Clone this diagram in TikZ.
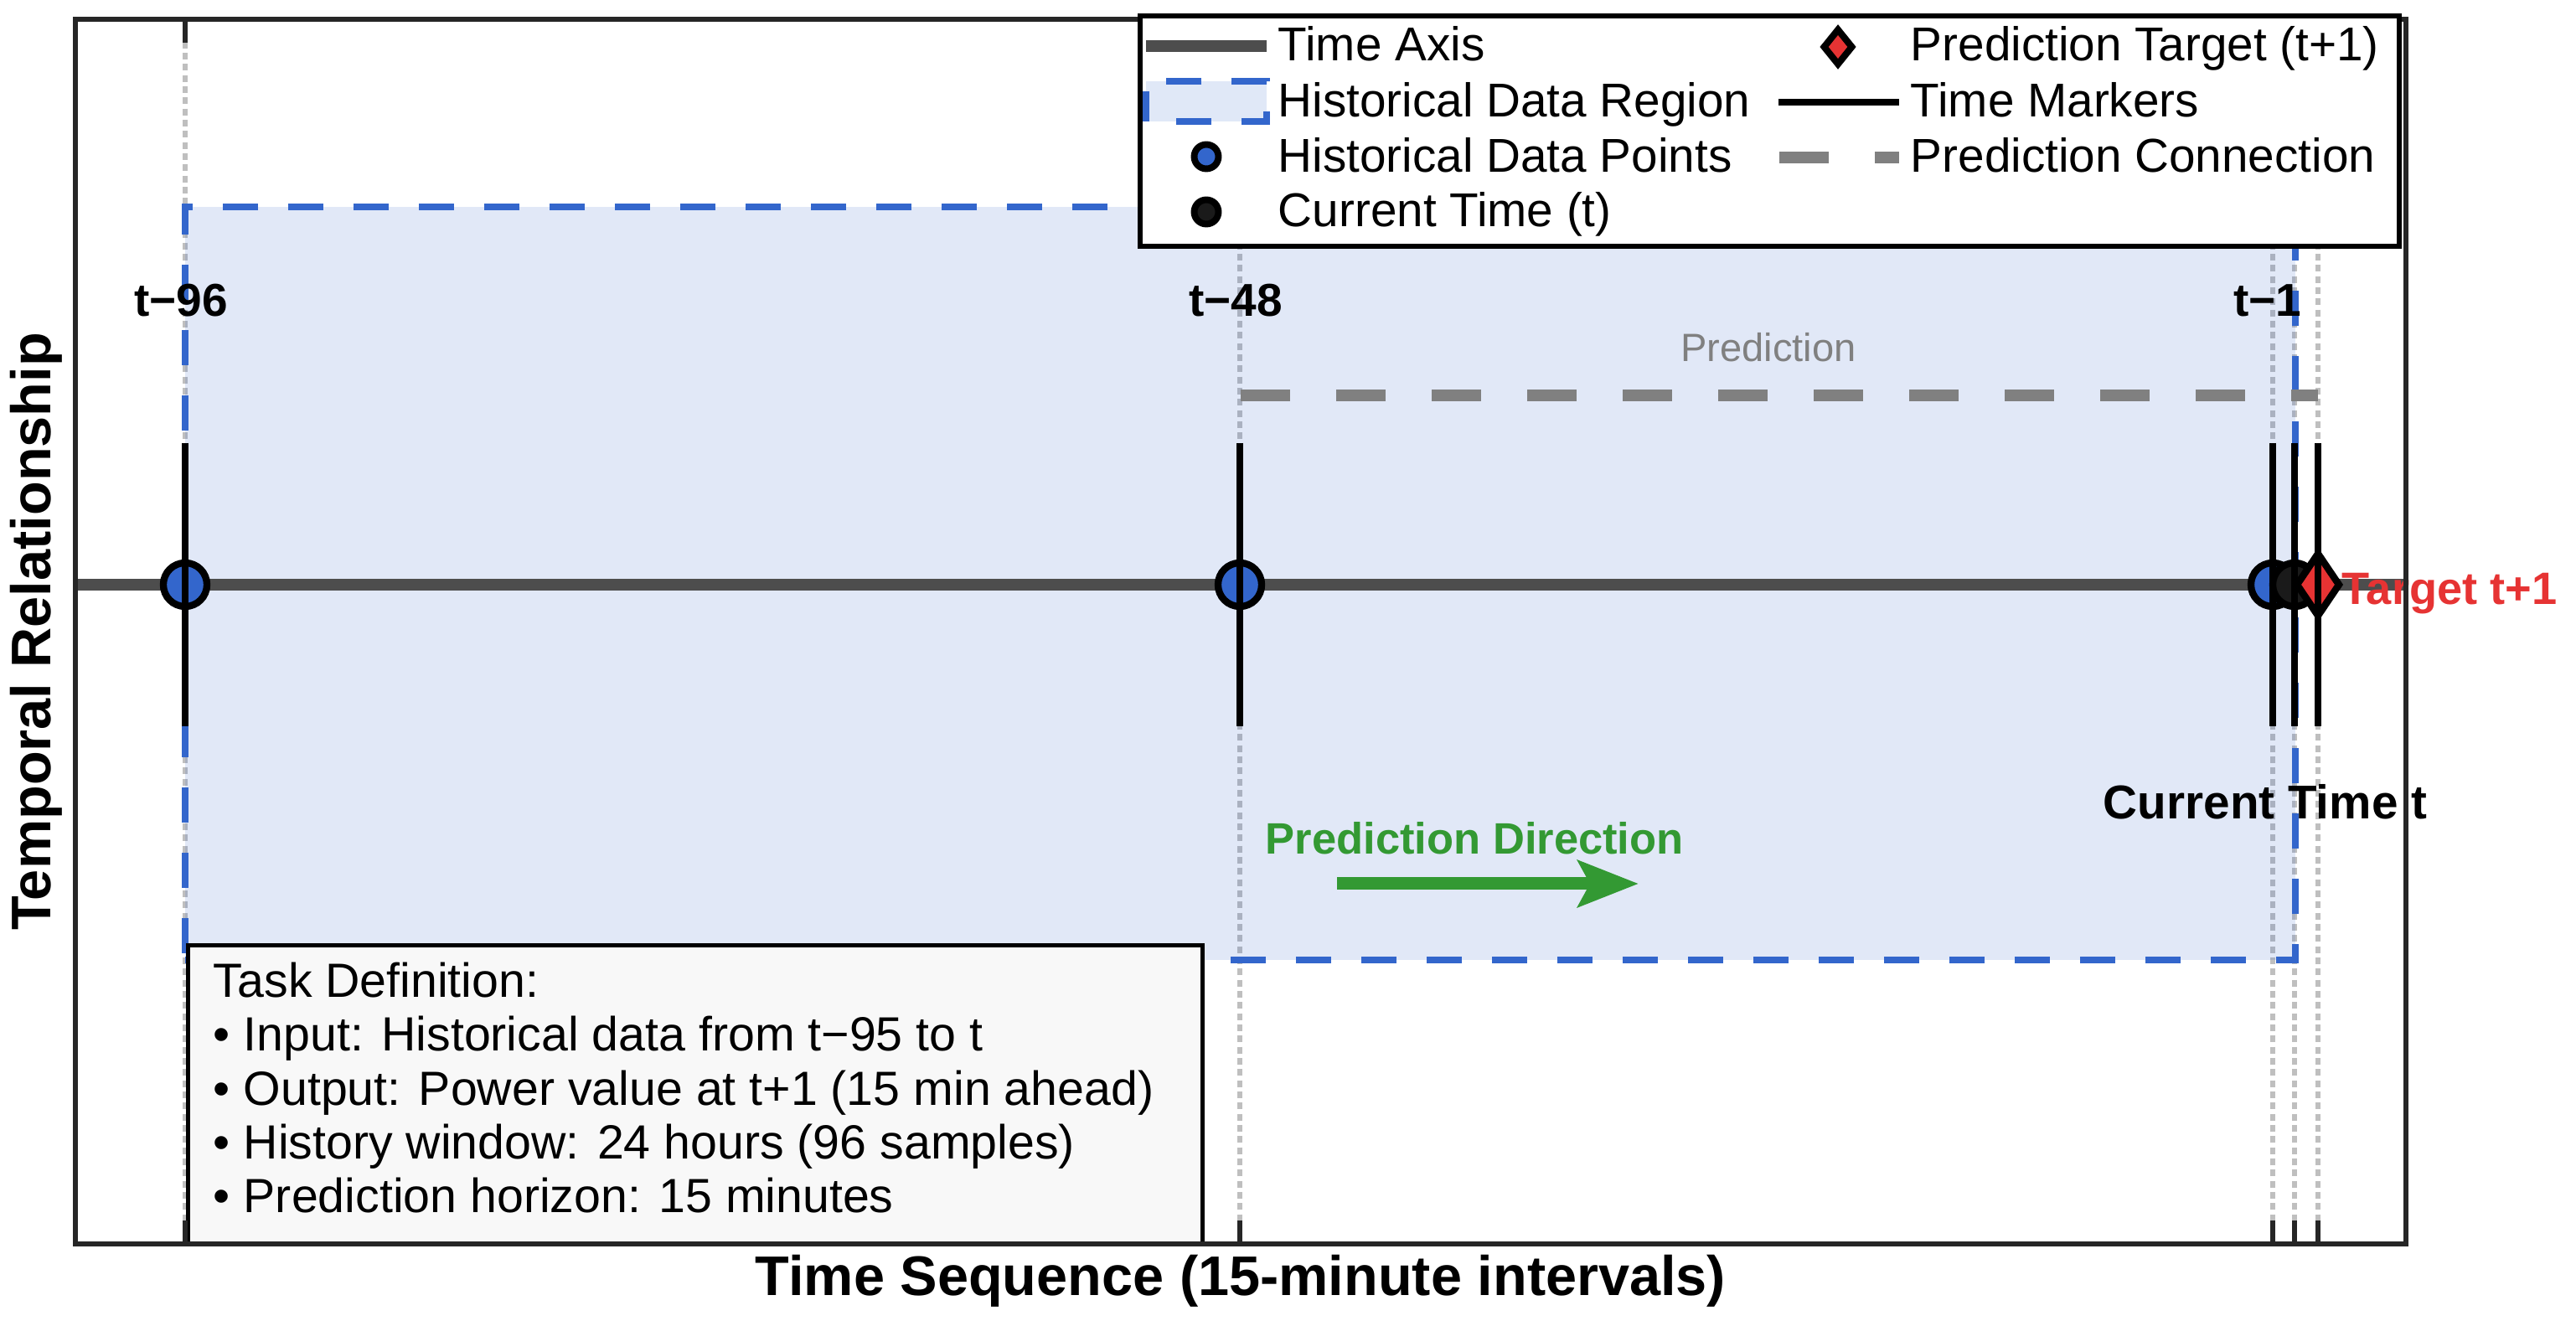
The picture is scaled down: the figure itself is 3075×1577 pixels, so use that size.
\documentclass[tikz,border=0pt]{standalone}
\usepackage{fontspec}
\setmainfont{Liberation Sans}
\usetikzlibrary{arrows.meta}
\definecolor{cblue}{HTML}{3366CC}
\definecolor{cred}{HTML}{E63333}
\definecolor{cgreen}{HTML}{339933}
\definecolor{cgrayline}{HTML}{808080}
\definecolor{caxis}{HTML}{4D4D4D}
\definecolor{cdark}{HTML}{1A1A1A}
\definecolor{cgrid}{HTML}{BFBFBF}
\definecolor{cbox}{HTML}{F8F8F8}
\newcommand{\regf}{\fontsize{13.6}{16}\selectfont}
\newcommand{\boldlbl}{\bfseries\fontsize{13.2}{15}\selectfont}
\begin{document}
\begin{tikzpicture}[x=0.24pt,y=-0.24pt,
  gridln/.style={draw=cgrid, line width=1.5pt, dash pattern=on 1.9pt off 1.3pt},
  regfill/.style={fill=cblue, fill opacity=0.15},
  regedge/.style={draw=cblue, line width=1.7pt, dash pattern=on 10.08pt off 8.64pt},
  axisln/.style={draw=caxis, line width=3.3pt},
  markln/.style={draw=black, line width=2.1pt},
  predln/.style={draw=cgrayline, line width=3.2pt, dash pattern=on 14.16pt off 13.2pt},
  hpt/.style={circle, draw=black, line width=2pt, fill=cblue, minimum size=12.5pt, inner sep=0pt},
  cpt/.style={hpt, fill=cdark},
  lhpt/.style={circle, draw=black, line width=1.9pt, fill=cblue, minimum size=6.96pt, inner sep=0pt},
  lcpt/.style={lhpt, fill=cdark},
  diam/.style={draw=black, fill=cred, line width=2pt},
  tlbl/.style={font=\boldlbl, anchor=base, inner sep=0pt},
  legtxt/.style={font=\regf, anchor=base west, inner sep=0pt},
  boxtxt/.style={font=\fontsize{13.75}{16}\selectfont, anchor=base west, inner sep=0pt},
  tickln/.style={draw=black!85, line width=1.4pt},
  framebox/.style={draw=black!85, line width=1.3pt}
]
\useasboundingbox (0,0) rectangle (3075,1577);

% positions
\coordinate (x96) at (221,698);
\coordinate (x48) at (1480,698);
\coordinate (x1) at (2713,698);
\coordinate (x0) at (2739,698);
\coordinate (xp1) at (2767,698);

% grid lines
\foreach \gx in {221,1480,2713,2739,2767}{
  \draw[gridln] (\gx,23) -- (\gx,1485);
}

% historical region
\fill[regfill] (221,247) rectangle (2740,1146);
\draw[regedge] (221,1146) -- (2740,1146) -- (2740,247) -- (221,247) -- cycle;

% time axis
\coordinate (axL) at (90,698);
\coordinate (axR) at (2872,698);
\draw[axisln] (axL) -- (axR);

% prediction connection
\coordinate (pcs) at (1481,472);
\coordinate (pce) at (2767,472);
\draw[predln] (pcs) -- (pce);
\node[font=\fontsize{11.3}{13}\selectfont, text=cgrayline, anchor=base, inner sep=0pt] (predtxt) at (2111,432) {Prediction};

% points
\node[hpt] (p96) at (x96) {};
\node[hpt] (p48) at (x48) {};
\node[hpt] (p1) at (x1) {};
\node[cpt] (p0) at (x0) {};
\draw[diam] (xp1) +(0,-37) -- +(25,0) -- +(0,37) -- +(-25,0) -- cycle;
\coordinate (pt1) at (xp1);

% time markers
\foreach \m in {p96,p48,p1,p0,pt1}{
  \draw[markln] (\m.center) ++(0,-169) -- ++(0,338);
}

% labels
\node[tlbl] (l96) at (216,378) {t−96};
\node[tlbl] (l48) at (1475,378) {t−48};
\node[tlbl] (l1) at (2707,378) {t−1};
\node[font=\bfseries\fontsize{13.6}{16}\selectfont, anchor=base, inner sep=0pt] (ctime) at (2704,978) {Current Time t};
\node[font=\bfseries\fontsize{13.0}{15}\selectfont, text=cred, anchor=base west, inner sep=0pt] (tgt) at (2795,722) {Target t+1};

% prediction direction
\node[font=\bfseries\fontsize{12.6}{15}\selectfont, text=cgreen, anchor=base west, inner sep=0pt] (pdir) at (1510,1020) {Prediction Direction};
\coordinate (arS) at (1596,1055);
\coordinate (arE) at (1956,1055);
\draw[draw=cgreen, line width=3.6pt, -{Stealth[length=17.3pt, width=13.2pt, inset=3.4pt]}] (arS) -- (arE);

% task definition box
\node[draw=black, fill=cbox, line width=1.3pt, anchor=north west, minimum width=290.64pt, minimum height=85.68pt, inner sep=0pt] (taskbox) at (222,1126) {};
\node[boxtxt] (tb1) at (254,1191) {Task Definition:};
\node[boxtxt] (tb2) at (254,1255) {• Input: Historical data from t−95 to t};
\node[boxtxt] (tb3) at (254,1320) {• Output: Power value at t+1 (15 min ahead)};
\node[boxtxt] (tb4) at (254,1384) {• History window: 24 hours (96 samples)};
\node[boxtxt] (tb5) at (254,1448) {• Prediction horizon: 15 minutes};

% frame and ticks
\draw[framebox] (90,23) rectangle (2872,1485);
\foreach \gx in {221,1480,2713,2739,2767}{
  \draw[tickln] (\gx,23) -- (\gx,51);
  \draw[tickln] (\gx,1457) -- (\gx,1485);
}

% axis labels
\node[font=\bfseries\fontsize{16}{19}\selectfont, anchor=base, inner sep=0pt] (xlab) at (1481,1547) {Time Sequence (15-minute intervals)};
\node[font=\bfseries\fontsize{16}{19}\selectfont, anchor=base, rotate=90, inner sep=0pt] (ylab) at (60,754) {Temporal Relationship};

% legend
\node[draw=black, fill=white, line width=1.5pt, anchor=north west, minimum width=360.72pt, minimum height=66pt, inner sep=0pt] (legend) at (1358,16) {};
\draw[axisln] (1368,55) -- (1512,55);
\fill[regfill] (1368,97) rectangle (1512,145);
\draw[regedge, dash phase=10.08pt] (1368,145) -- (1512,145) -- (1512,97) -- (1368,97) -- cycle;
\node[lhpt] (lg3) at (1440,187) {};
\node[lcpt] (lg4) at (1440,253) {};
\draw[diam, line width=1.9pt] (2194,56) +(0,-20.5) -- +(16.5,0) -- +(0,20.5) -- +(-16.5,0) -- cycle;
\draw[markln, line width=1.8pt] (2123,122) -- (2267,122);
\draw[predln] (2124,188) -- (2267,188);
\node[legtxt] (lt1) at (1525,73) {Time Axis};
\node[legtxt] (lt2) at (1525,140) {Historical Data Region};
\node[legtxt] (lt3) at (1525,206) {Historical Data Points};
\node[legtxt] (lt4) at (1525,271) {Current Time (t)};
\node[legtxt] (lt5) at (2280,73) {Prediction Target (t+1)};
\node[legtxt] (lt6) at (2280,140) {Time Markers};
\node[legtxt] (lt7) at (2280,206) {Prediction Connection};
\end{tikzpicture}
\end{document}
